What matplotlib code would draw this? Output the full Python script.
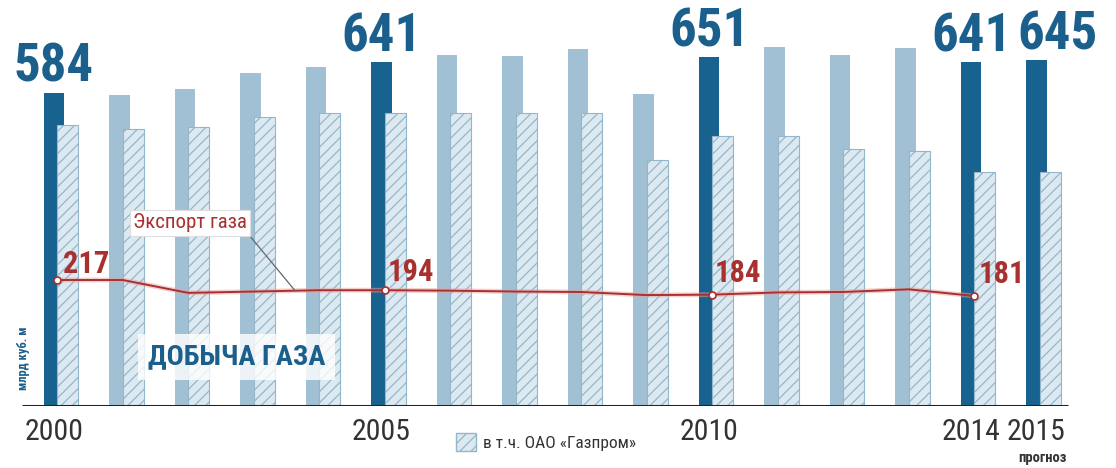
import numpy as np
import matplotlib
matplotlib.use("Agg")
import matplotlib.pyplot as plt
from matplotlib.patches import Patch

# добыча газа в России, млрд куб. м
years = list(range(2000, 2016))
production = [584, 581, 592, 621, 632, 641, 654, 653, 666, 583, 651, 670, 654, 667, 641, 645]
# в т.ч. ОАО «Газпром»
gazprom = [525, 516, 521, 539, 547, 547, 547, 547, 547, 459, 504, 504, 479, 475, 437, 437]
# экспорт газа (рисуется на своей шкале)
export_years = list(range(2000, 2015))
export = [217, 217, 188, 191, 194, 194, 193, 191, 190, 183, 184, 189, 190, 196, 181]

highlight = [2000, 2005, 2010, 2014, 2015]
export_labels = [2000, 2005, 2010, 2014]

DARK = "#17628f"
LIGHT = "#a2c0d3"
HATCH_FACE = "#dde9f1"
HATCH_EDGE = "#93b6cb"
BLUE_TXT = "#1b5f8c"
RED = "#a8302f"

plt.rcParams["font.family"] = ["Roboto Condensed", "DejaVu Sans"]
plt.rcParams["hatch.linewidth"] = 0.9

fig = plt.figure(figsize=(11.16, 4.68), dpi=100)
fig.patch.set_facecolor("white")
# baseline at 406 px from top, axes reaches top of the image
ax = fig.add_axes([0, 62 / 468, 1, 406 / 468])
px = 65.5  # pixels per year
ax.set_xlim(-54 / px, (1116 - 54) / px)
ax.set_ylim(0, 406 / 0.536)

idx = np.arange(len(years))
cols = [DARK if y in highlight else LIGHT for y in years]
ax.bar(idx, production, width=0.32, color=cols, zorder=2)
ax.bar(idx + 0.21, gazprom, width=0.32, color=HATCH_FACE, edgecolor=HATCH_EDGE,
       hatch="///", linewidth=0.8, zorder=3)

ax.hlines(0, -0.49, 15.48, color="#222222", lw=2.2, zorder=4)

for i, y in enumerate(years):
    if y in highlight:
        dx = 0.32 if y == 2015 else 0
        ax.annotate(str(production[i]), (i + dx, production[i]), xytext=(0, 0),
                    textcoords="offset points", ha="center", va="bottom",
                    fontsize=38, fontweight="bold", color=BLUE_TXT, zorder=6)

tick_idx = [years.index(y) for y in highlight]
ax.set_xticks(tick_idx, [str(y) for y in highlight])
ax.tick_params(axis="x", length=0, pad=9, labelsize=21.5, labelcolor="#333333")
ax.set_yticks([])
for s in ax.spines.values():
    s.set_visible(False)

# export line on its own scale
ax2 = ax.twinx()
ax2.set_ylim(217 - 126 / 0.444, 217 + 280 / 0.444)
ax2.set_axis_off()
ex = np.array([years.index(y) for y in export_years]) + 0.05
ax2.plot(ex, export, color="#e8a0a0", lw=3.5, alpha=0.5, zorder=5)
ax2.plot(ex, export, color=RED, lw=1.4, zorder=6)
offsets = [(4, 1), (2, 2), (2, 5), (3, 5)]
for (ox, oy), y in zip(offsets, export_labels):
    k = export_years.index(y)
    ax2.plot(ex[k], export[k], "o", ms=5, mfc="white", mec=RED, mew=1.2, zorder=7)
    ax2.annotate(str(export[k]), (ex[k], export[k]), xytext=(ox, oy),
                 textcoords="offset points", ha="left", va="bottom",
                 fontsize=22, fontweight="bold", color=RED, zorder=8)

ax2.annotate("Экспорт газа", xy=(3.68, 193), xytext=(190, 245),
             textcoords="figure pixels", ha="center", va="center",
             fontsize=15, color=RED, zorder=8,
             bbox=dict(boxstyle="square,pad=0.15", fc="white", ec="#dddddd", lw=0.8),
             arrowprops=dict(arrowstyle="-", relpos=(1, 0), shrinkA=0, shrinkB=0,
                             color="#666666", lw=0.9))

fig.text(148 / 1116, 1 - 357 / 468, "ДОБЫЧА ГАЗА", ha="left", va="center",
         fontsize=20.5, fontweight="bold", color=BLUE_TXT, zorder=9,
         bbox=dict(boxstyle="square,pad=0.35", fc="white", ec="none", alpha=0.8))

fig.text(24 / 1116, 1 - 358 / 468, "млрд куб. м", rotation=90, ha="center",
         va="center", fontsize=9, fontweight="bold", color=BLUE_TXT)

fig.text(1067 / 1116, 1 - 458 / 468, "прогноз", ha="right", va="center",
         fontsize=10.5, fontweight="bold", color="#333333")

fig.legend(handles=[Patch(facecolor=HATCH_FACE, edgecolor=HATCH_EDGE, hatch="///")],
           labels=["в т.ч. ОАО «Газпром»"], loc="center left",
           bbox_to_anchor=(440 / 1116, 1 - 442 / 468), frameon=False,
           handlelength=1.2, handleheight=1.2, handletextpad=0.4,
           fontsize=12.5, labelcolor="#333333")

fig.savefig("out.png", dpi=100, facecolor="white")
